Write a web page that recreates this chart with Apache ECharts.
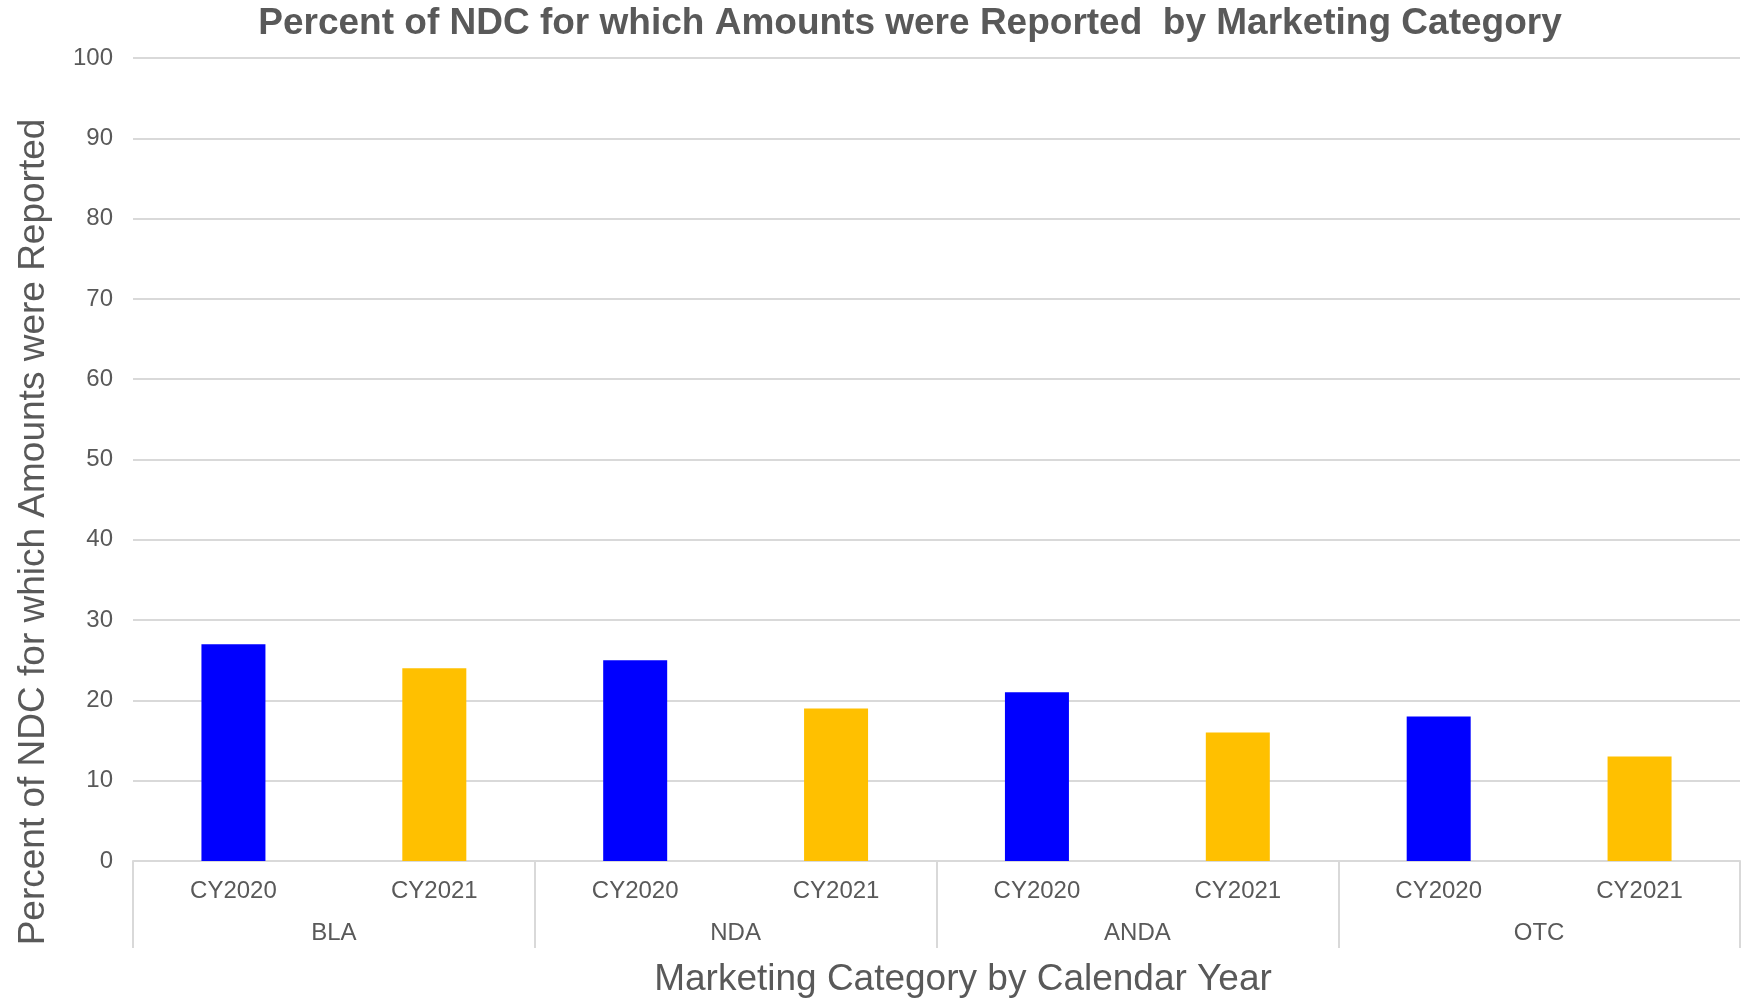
<!DOCTYPE html>
<html>
<head>
<meta charset="utf-8">
<script src="https://cdn.jsdelivr.net/npm/echarts@6/dist/echarts.min.js"></script>
<style>
  html, body { margin: 0; padding: 0; background: #fff; }
  #chart { width: 1749px; height: 999px; }
</style>
</head>
<body>
<div id="chart"></div>
<script>
// Marketing categories and reporting years
const groups = ['BLA', 'NDA', 'ANDA', 'OTC'];
const years = ['CY2020', 'CY2021'];
// Percent of NDC with reported amounts, per category
const cy2020 = [27, 25, 21, 18];
const cy2021 = [24, 19, 16, 13];
const yTicks = { min: 0, max: 100, interval: 10 };

const yearColors = { CY2020: '#0000FF', CY2021: '#FFC000' };
const textColor = '#595959';
const lineColor = '#D9D9D9';
const font = 'Liberation Sans, Arial, sans-serif';

// Flatten into one category per (group, year) pair
const subCats = [];
const barData = [];
groups.forEach((g, i) => {
  [cy2020[i], cy2021[i]].forEach((v, j) => {
    subCats.push(years[j]);
    barData.push({ value: v, itemStyle: { color: yearColors[years[j]] } });
  });
});

const chart = echarts.init(document.getElementById('chart'), null, { renderer: 'canvas' });
chart.setOption({
  backgroundColor: '#fff',
  animation: false,
  graphic: [
    {
      type: 'text',
      x: 910, y: 24,
      style: {
        text: 'Percent of NDC for which Amounts were Reported  by Marketing Category',
        fontFamily: font, fontSize: 37, fontWeight: 'bold', fill: textColor,
        align: 'center', verticalAlign: 'middle'
      }
    },
    {
      type: 'text',
      x: 34, y: 532,
      rotation: Math.PI / 2,
      style: {
        text: 'Percent of NDC for which Amounts were Reported',
        fontFamily: font, fontSize: 37, fill: textColor,
        align: 'center', verticalAlign: 'middle'
      }
    },
    {
      type: 'text',
      x: 963, y: 980,
      style: {
        text: 'Marketing Category by Calendar Year',
        fontFamily: font, fontSize: 37, fill: textColor,
        align: 'center', verticalAlign: 'middle'
      }
    }
  ],
  grid: { left: 133, right: 9, top: 58, bottom: 138, containLabel: false },
  xAxis: [
    {
      type: 'category',
      data: subCats,
      position: 'bottom',
      axisLine: { show: true, lineStyle: { color: lineColor, width: 2 } },
      axisTick: { show: false },
      axisLabel: { interval: 0, margin: 18, fontFamily: font, fontSize: 24, color: textColor }
    },
    {
      type: 'category',
      data: groups,
      position: 'bottom',
      axisLine: { show: false },
      axisTick: { show: true, length: 87, interval: 0, lineStyle: { color: lineColor, width: 2 } },
      axisLabel: { interval: 0, margin: 60, fontFamily: font, fontSize: 24, color: textColor },
      splitLine: { show: false }
    }
  ],
  yAxis: {
    type: 'value',
    min: yTicks.min,
    max: yTicks.max,
    interval: yTicks.interval,
    axisLine: { show: false },
    axisTick: { show: false },
    splitLine: { show: true, lineStyle: { color: lineColor, width: 2 } },
    axisLabel: { margin: 20, fontFamily: font, fontSize: 24, color: textColor }
  },
  series: [{
    type: 'bar',
    xAxisIndex: 0,
    barWidth: 64,
    data: barData
  }]
});
</script>
</body>
</html>
